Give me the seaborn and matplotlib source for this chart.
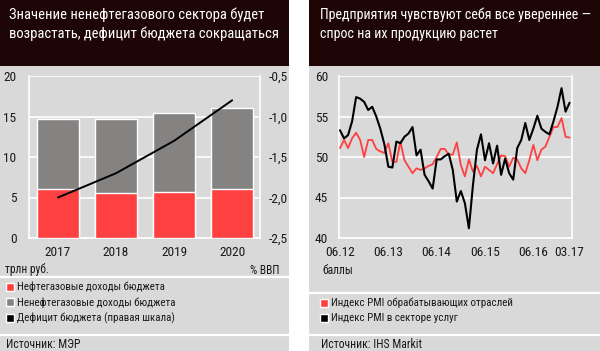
import matplotlib
matplotlib.use("Agg")
import matplotlib.pyplot as plt
import seaborn as sns
import numpy as np
import pandas as pd
from matplotlib.patches import Rectangle, Patch
from matplotlib.lines import Line2D

sns.set_theme(style="white")
plt.rcParams['font.family'] = ['Roboto Condensed', 'PT Sans Narrow', 'DejaVu Sans']
plt.rcParams['font.stretch'] = 'condensed'

# ---------------- data ----------------
years = ["2017", "2018", "2019", "2020"]
oil_gas = [6.0, 5.5, 5.7, 6.0]
non_oil_gas = [8.7, 9.2, 9.7, 10.0]
deficit = [-2.0, -1.7, -1.3, -0.8]
left_yticks = [0, 5, 10, 15, 20]
right_yticks = [-2.5, -2.0, -1.5, -1.0, -0.5]
right_yticklabels = ["-2,5", "-2,0", "-1,5", "-1,0", "-0,5"]

pmi_manuf = [51.1, 52.1, 51.1, 52.3, 53.0, 52.1, 50.0, 52.1, 52.1, 51.0,
             50.7, 50.5, 51.7, 49.4, 49.4, 51.9, 49.6, 48.8, 48.0, 48.6,
             48.4, 48.6, 48.9, 49.1, 50.0, 51.0, 51.0, 50.3, 50.3, 51.8,
             49.0, 47.6, 49.7, 48.2, 48.9, 47.6, 48.8, 48.4, 48.0, 49.1,
             50.2, 50.1, 48.8, 49.9, 49.7, 48.6, 48.0, 49.6, 51.5, 49.6,
             50.9, 51.3, 52.5, 53.7, 53.7, 54.8, 52.5, 52.4]
pmi_serv = [53.3, 52.3, 52.7, 54.4, 57.4, 57.2, 56.8, 55.8, 56.2, 55.0,
            53.5, 51.6, 48.8, 48.7, 51.9, 51.7, 52.5, 52.9, 53.7, 50.2,
            50.9, 47.8, 47.0, 46.1, 49.7, 49.7, 50.1, 50.4, 48.4, 44.5,
            45.8, 44.3, 41.2, 46.5, 50.9, 52.8, 49.6, 51.7, 49.2, 51.4,
            47.8, 49.8, 48.0, 47.2, 51.1, 52.1, 54.2, 52.1, 53.5, 55.1,
            53.5, 53.1, 52.8, 54.4, 56.2, 58.5, 55.6, 56.7]
pmi_ticks = [0, 12, 24, 36, 48, 57]
pmi_ticklabels = ["06.12", "06.13", "06.14", "06.15", "06.16", "03.17"]
pmi_yticks = [40, 45, 50, 55, 60]

left_title = "Значение ненефтегазового сектора будет\nвозрастать, дефицит бюджета сокращаться"
right_title = "Предприятия чувствуют себя все увереннее —\nспрос на их продукцию растет"
left_legend = ["Нефтегазовые доходы бюджета", "Ненефтегазовые доходы бюджета",
               "Дефицит бюджета (правая шкала)"]
right_legend = ["Индекс PMI обрабатывающих отраслей", "Индекс PMI в секторе услуг"]

# ---------------- styling ----------------
DARK = "#1e0606"
GRAY_BG = "#d9d9d9"
RED = "#ff4040"
BAR_GRAY = "#858282"
TXT = "#1a1a1a"
W, H = 600, 351

fig = plt.figure(figsize=(6, 3.51), dpi=100)
fig.patch.set_facecolor("white")

def fx(px):
    return px / W

def fy(py):
    return 1 - py / H

def rect(x0, y0, x1, y1, color):
    fig.add_artist(Rectangle((fx(x0), fy(y1)), fx(x1) - fx(x0), fy(y0) - fy(y1),
                             transform=fig.transFigure, facecolor=color,
                             edgecolor="none", zorder=-10))

def hline(y, x0, x1):
    fig.add_artist(Line2D([fx(x0), fx(x1)], [fy(y), fy(y)], transform=fig.transFigure,
                          color="white", lw=1.6, zorder=-5))

# panels
rect(0, 0, 289, 66, DARK)
rect(0, 66, 289, 351, GRAY_BG)
rect(309, 0, 600, 66, DARK)
rect(309, 66, 600, 351, GRAY_BG)
hline(277, 0, 289)
hline(335, 0, 289)
hline(293, 309, 600)
hline(335, 309, 600)

fig.text(fx(9), fy(7.5), left_title, color="white", fontsize=10.5, va="top",
         ha="left", linespacing=1.42)
fig.text(fx(320), fy(7.5), right_title, color="white", fontsize=10.1, va="top",
         ha="left", linespacing=1.47)

def style_axes(ax):
    ax.set_facecolor(GRAY_BG)
    ax.spines["top"].set_visible(False)
    for s in ["left", "right", "bottom"]:
        ax.spines[s].set_color("white")
        ax.spines[s].set_linewidth(1.2)
    ax.grid(axis="y", color="white", lw=1.2)
    ax.grid(axis="x", visible=False)
    ax.set_axisbelow(True)
    ax.tick_params(length=0, labelsize=9.6, colors=TXT)

# ---------------- left chart ----------------
axL = fig.add_axes([fx(29), fy(238), fx(260) - fx(29), fy(76) - fy(238)])
style_axes(axL)
df = pd.DataFrame({"year": years, "oil": oil_gas, "non": non_oil_gas})
df["total"] = df["oil"] + df["non"]
sns.barplot(data=df, x="year", y="total", color=BAR_GRAY, saturation=1,
            width=0.73, ax=axL, zorder=2)
sns.barplot(data=df, x="year", y="oil", color=RED, saturation=1,
            width=0.73, ax=axL, zorder=3)
axL.set_xlim(-0.5, 3.48)
axL.set_ylim(0, 20)
axL.set_yticks(left_yticks)
axL.set_xlabel("")
axL.set_ylabel("")
axL.tick_params(axis="y", pad=9)
axL.tick_params(axis="x", pad=6)

axR = axL.twinx()
axR.set_ylim(-2.5, -0.5)
sns.lineplot(x=np.arange(len(years)), y=deficit, color="black", lw=1.4, ax=axR)
axR.set_yticks(right_yticks)
axR.set_yticklabels(right_yticklabels)
axR.tick_params(length=0, labelsize=9.6, colors=TXT, pad=6)
for s in axR.spines.values():
    s.set_visible(False)
axR.grid(False)

fig.text(fx(5), fy(270), "трлн руб.", fontsize=8.3, color=TXT, va="center")
fig.text(fx(279), fy(270), "% ВВП", fontsize=8.3, color=TXT, va="center", ha="right")

handlesL = [Patch(facecolor=RED), Patch(facecolor=BAR_GRAY), Patch(facecolor="black")]
legL = fig.legend(handlesL, left_legend, loc="upper left",
                  bbox_to_anchor=(fx(6), fy(282)), frameon=False, fontsize=7.9,
                  handlelength=0.75, handleheight=0.75, handletextpad=0.25,
                  labelspacing=0.45, borderaxespad=0, borderpad=0)
for t in legL.get_texts():
    t.set_color(TXT)

fig.text(fx(6), fy(345), "Источник: МЭР", fontsize=8.5, color=TXT, va="center")

# ---------------- right chart ----------------
axP = fig.add_axes([fx(339), fy(238), fx(572) - fx(339), fy(76) - fy(238)])
style_axes(axP)
months = np.arange(len(pmi_manuf))
sns.lineplot(x=months, y=pmi_manuf, color=RED, lw=1.3, ax=axP, zorder=3)
sns.lineplot(x=months, y=pmi_serv, color="black", lw=1.5, ax=axP, zorder=4)
axP.set_xlim(-0.25, 57.6)
axP.set_ylim(40, 60)
axP.set_yticks(pmi_yticks)
axP.set_xticks(pmi_ticks)
axP.set_xticklabels(pmi_ticklabels)
axP.tick_params(axis="y", pad=8)
axP.tick_params(axis="x", pad=6)

fig.text(fx(322), fy(270), "баллы", fontsize=8.3, color=TXT, va="center")

handlesR = [Patch(facecolor=RED), Patch(facecolor="black")]
legR = fig.legend(handlesR, right_legend, loc="upper left",
                  bbox_to_anchor=(fx(320), fy(298)), frameon=False, fontsize=7.9,
                  handlelength=0.75, handleheight=0.75, handletextpad=0.25,
                  labelspacing=0.45, borderaxespad=0, borderpad=0)
for t in legR.get_texts():
    t.set_color(TXT)

fig.text(fx(321), fy(345), "Источник: IHS Markit", fontsize=8.5, color=TXT, va="center")

fig.savefig("out.png", dpi=100)
